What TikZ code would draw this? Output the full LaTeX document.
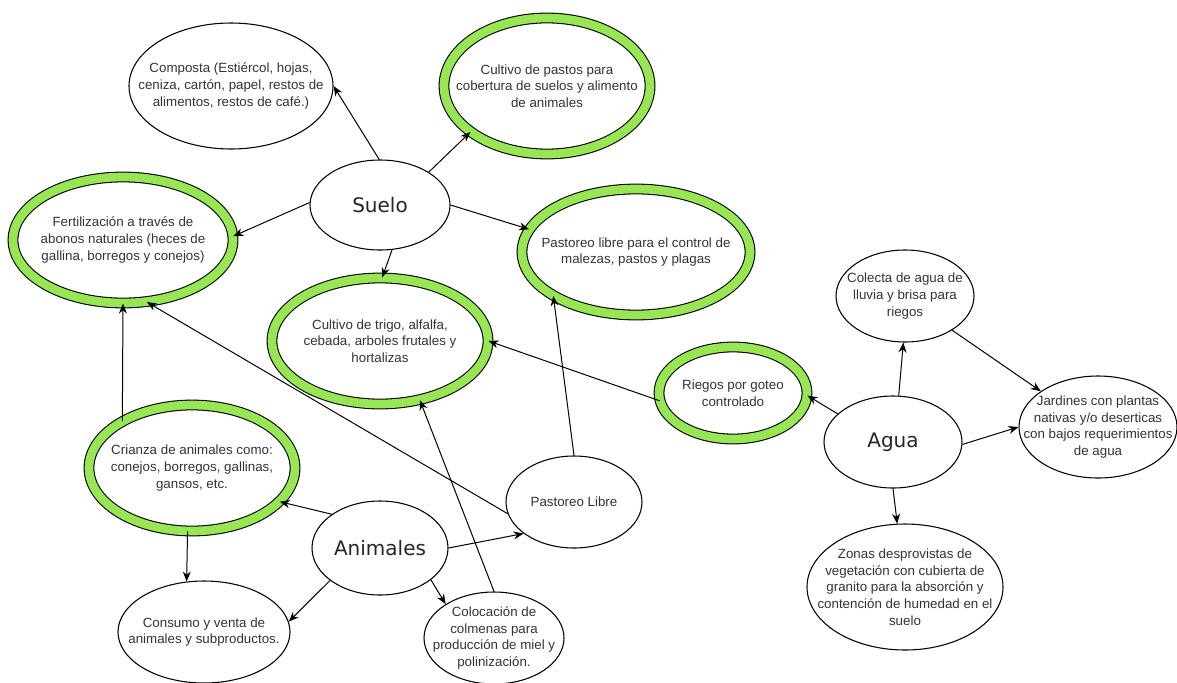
\documentclass[tikz,border=0pt]{standalone}
\usepackage{fontspec}
\setmainfont{Liberation Sans}
\newfontfamily\bigfont{DejaVu Sans}
\usetikzlibrary{shapes.geometric,arrows.meta}
\definecolor{ringgreen}{RGB}{153,230,84}

\begin{document}
\begin{tikzpicture}[x=0.75pt, y=-0.75pt,
        bubble/.style={ellipse, draw=black, line width=0.8pt, fill=white, inner sep=0pt},
        greenring/.style={bubble, double=ringgreen, double distance=6.5pt},
        dims/.style 2 args={minimum width=#1*1.5pt, minimum height=#2*1.5pt},
        txt/.style={align=center, text=black!80, font=\fontsize{10}{12.5}\selectfont},
        bigtxt/.style={text=black!85, font=\bigfont\fontsize{15}{18}\selectfont},
        link/.style={-{Stealth[length=7.5pt, width=6pt]}, line width=0.75pt}]
        \useasboundingbox (0,0) rectangle (1177,682);
        % suelo
        \node[bubble, dims={70}{45}, bigtxt] (suelo) at (380,205) {Suelo};
        \node[bubble, dims={102}{63}, label={[txt]center:{Composta (Estiércol, hojas,\\ceniza, cartón, papel, restos de\\alimentos, restos de café.)}}] (composta) at (231,86) {};
        \node[greenring, dims={103}{68}, label={[txt]center:{Cultivo de pastos para\\cobertura de suelos y alimento\\de animales}}] (pastos) at (547,86) {};
        \node[greenring, dims={110}{63}, label={[txt]center:{Fertilización a través de\\abonos naturales (heces de\\gallina, borregos y conejos)}}] (fertil) at (123,240) {};
        \node[greenring, dims={108}{63}, label={[txt]center:{Cultivo de trigo, alfalfa,\\cebada, arboles frutales y\\hortalizas}}] (trigo) at (380,341) {};
        \node[greenring, dims={114}{63}, label={[txt]center:{Pastoreo libre para el control de\\malezas, pastos y plagas}}] (pastlibre) at (636,252) {};
        % agua
        \node[bubble, dims={69}{46}, bigtxt] (agua) at (893,442) {Agua};
        \node[bubble, dims={69}{46}, label={[txt]center:{Colecta de agua de\\lluvia y brisa para\\riegos}}] (colecta) at (905,296) {};
        \node[greenring, dims={74}{46}, label={[txt]center:{Riegos por goteo\\controlado}}] (riegos) at (733,393) {};
        \node[bubble, dims={79}{51}, label={[txt]center:{Jardines con plantas\\nativas y/o deserticas\\con bajos requerimientos\\de agua}}] (jardines) at (1098,427) {};
        \node[bubble, dims={98}{63}, label={[txt]center:{Zonas desprovistas de\\vegetación con cubierta de\\granito para la absorción y\\contención de humedad en el\\suelo}}] (zonas) at (905,587) {};
        % animales
        \node[bubble, dims={68}{47}, bigtxt] (animales) at (380,548) {Animales};
        \node[greenring, dims={103}{63}, label={[txt]center:{Crianza de animales como:\\conejos, borregos, gallinas,\\gansos, etc.}}] (crianza) at (192,468) {};
        \node[bubble, dims={86}{51}, label={[txt]center:{Consumo y venta de\\animales y subproductos.}}] (consumo) at (204,632) {};
        \node[bubble, dims={68}{46}, label={[txt]center:{Pastoreo Libre}}] (pastoreo) at (574,502) {};
        \node[bubble, dims={70}{46}, label={[txt]center:{Colocación de\\colmenas para\\producción de miel y\\polinización.}}] (colmenas) at (494,638) {};
        % connectors
        \draw[link] (suelo.91) -- (composta.east);
        \draw[link] (suelo.34) -- (pastos.211);
        \draw[link] (suelo.178) -- (fertil.2);
        \draw[link] (suelo.east) -- (pastlibre.168);
        \draw[link] (suelo.285) -- (trigo.88);
        \draw[link] (crianza.146) -- (fertil.south);
        \draw[link] (pastoreo.190) -- (fertil.291);
        \draw[link] (colmenas.north) -- (trigo.304);
        \draw[link] (pastoreo.north) -- (pastlibre.208);
        \draw[link] (riegos.186) -- (trigo.east);
        \draw[link] (agua.153) -- (riegos.358);
        \draw[link] (agua.83) -- (colecta.268);
        \draw[link] (colecta.324) -- (jardines.148);
        \draw[link] (agua.358) -- (jardines.west);
        \draw[link] (agua.south) -- (zonas.97);
        \draw[link] (animales.145) -- (crianza.339);
        \draw[link] (crianza.266) -- (consumo.109);
        \draw[link] (animales.213) -- (consumo.7);
        \draw[link] (animales.east) -- (pastoreo.212);
        \draw[link] (animales.328) -- (colmenas.145);
\end{tikzpicture}
\end{document}
